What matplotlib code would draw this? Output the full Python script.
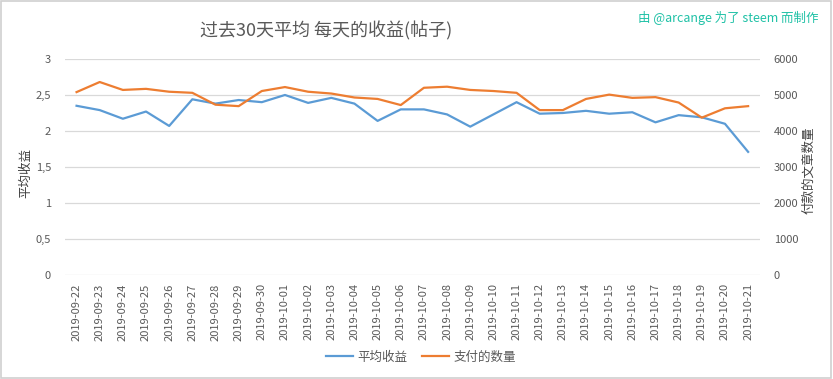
#!/usr/bin/env python3
"""Average daily payout per post over the last 30 days (Excel-style dual axis)."""

import matplotlib
matplotlib.use("Agg")
import matplotlib.pyplot as plt
from matplotlib.patches import Rectangle
from matplotlib.ticker import FuncFormatter

plt.rcParams["font.family"] = ["Noto Sans CJK SC", "DejaVu Sans"]

dates = [
    "2019-09-22", "2019-09-23", "2019-09-24", "2019-09-25", "2019-09-26",
    "2019-09-27", "2019-09-28", "2019-09-29", "2019-09-30", "2019-10-01",
    "2019-10-02", "2019-10-03", "2019-10-04", "2019-10-05", "2019-10-06",
    "2019-10-07", "2019-10-08", "2019-10-09", "2019-10-10", "2019-10-11",
    "2019-10-12", "2019-10-13", "2019-10-14", "2019-10-15", "2019-10-16",
    "2019-10-17", "2019-10-18", "2019-10-19", "2019-10-20", "2019-10-21",
]
avg_payout = [
    2.35, 2.29, 2.17, 2.27, 2.07, 2.44, 2.38, 2.43, 2.40, 2.50,
    2.39, 2.46, 2.38, 2.14, 2.30, 2.30, 2.23, 2.06, 2.23, 2.40,
    2.24, 2.25, 2.28, 2.24, 2.26, 2.12, 2.22, 2.19, 2.10, 1.71,
]
paid_posts = [
    5080, 5360, 5140, 5170, 5090, 5060, 4730, 4690, 5110, 5220,
    5090, 5040, 4930, 4890, 4720, 5200, 5230, 5140, 5110, 5060,
    4580, 4580, 4890, 5010, 4920, 4940, 4790, 4370, 4630, 4690,
]

BLUE = "#5B9BD5"
ORANGE = "#ED7D31"
GREY = "#595959"
GRID = "#D9D9D9"

fig = plt.figure(figsize=(8.33, 3.79), dpi=100)
fig.patches.append(Rectangle((0.001, 0.002), 0.997, 0.995, transform=fig.transFigure,
                             fill=False, edgecolor="#D0D0D0", linewidth=1.2))

ax1 = fig.add_axes([0.078, 0.2744, 0.834, 0.570])
ax2 = ax1.twinx()

x = range(len(dates))
l1, = ax1.plot(x, avg_payout, color=BLUE, linewidth=1.6, label="平均收益")
l2, = ax2.plot(x, paid_posts, color=ORANGE, linewidth=1.6, label="支付的数量")

ax1.set_xlim(-0.5, len(dates) - 0.5)
ax1.set_ylim(0, 3)
ax2.set_ylim(0, 6000)
ax1.set_yticks([0, 0.5, 1, 1.5, 2, 2.5, 3])
ax2.set_yticks(range(0, 6001, 1000))
ax1.yaxis.set_major_formatter(FuncFormatter(lambda v, p: f"{v:g}".replace(".", ",")))

ax1.set_xticks(list(x))
ax1.set_xticklabels(dates, rotation=90, fontsize=7.5, color=GREY)
ax1.grid(axis="y", color=GRID, linewidth=0.9)
ax1.set_axisbelow(True)

for ax in (ax1, ax2):
    for s in ax.spines.values():
        s.set_visible(False)
    ax.tick_params(length=0, labelsize=8, labelcolor=GREY)
ax1.tick_params(axis="y", pad=10)
ax2.tick_params(axis="y", pad=10)
ax1.tick_params(axis="x", pad=6)

ax1.set_ylabel("平均收益", fontsize=9, color="#404040")
ax1.yaxis.set_label_coords(-0.047, 0.47)
ax2.set_ylabel("付款的文章数量", fontsize=9, color="#404040", rotation=90)
ax2.yaxis.set_label_coords(1.062, 0.485)

fig.text(0.392, 0.918, "过去30天平均 每天的收益(帖子)", fontsize=13, color=GREY,
         ha="center", va="center")
fig.text(0.983, 0.953, "由 @arcange 为了 steem 而制作", fontsize=9, color="#1FC1A6",
         ha="right", va="center")

fig.legend(handles=[l1, l2], loc="center", bbox_to_anchor=(0.505, 0.058), ncol=2,
           frameon=False, fontsize=9, labelcolor=GREY, handlelength=2.2,
           handletextpad=0.3, columnspacing=1.2)

fig.savefig("out.png", dpi=100)
